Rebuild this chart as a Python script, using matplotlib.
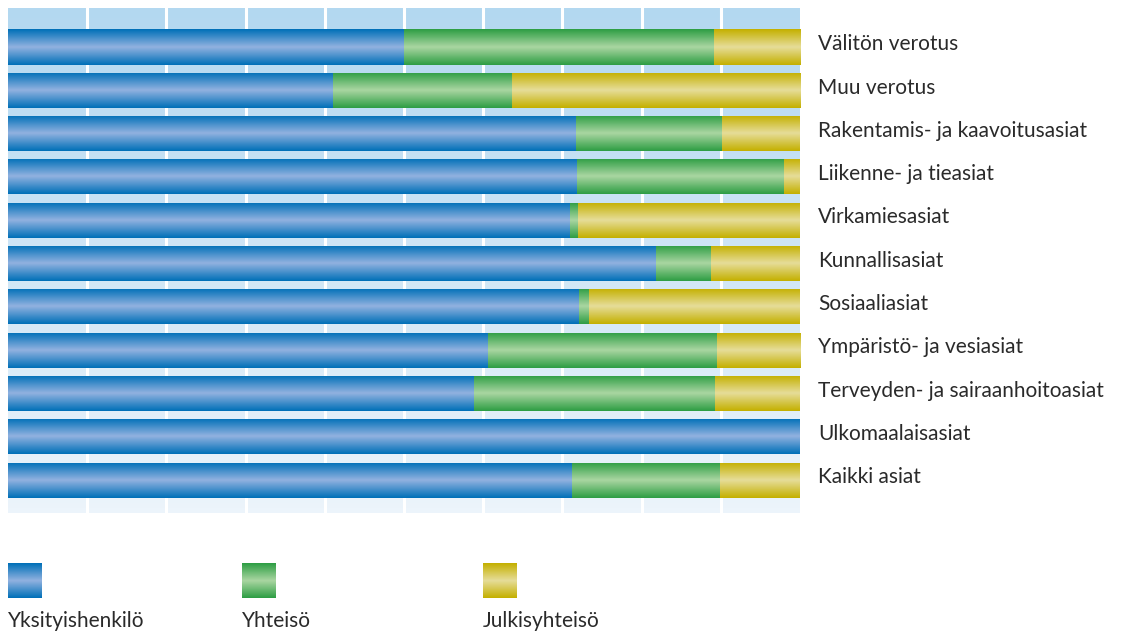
import numpy as np
import matplotlib
matplotlib.use('Agg')
import matplotlib.pyplot as plt
from matplotlib.colors import LinearSegmentedColormap

categories = ['Välitön verotus', 'Muu verotus', 'Rakentamis- ja kaavoitusasiat',
              'Liikenne- ja tieasiat', 'Virkamiesasiat', 'Kunnallisasiat',
              'Sosiaaliasiat', 'Ympäristö- ja vesiasiat',
              'Terveyden- ja sairaanhoitoasiat', 'Ulkomaalaisasiat', 'Kaikki asiat']
yksityis = [50.0, 41.0, 71.7, 71.8, 71.0, 81.8, 72.1, 60.6, 58.8, 100.0, 71.2]
yhteiso = [39.1, 22.6, 18.5, 26.2, 1.0, 7.0, 1.3, 28.9, 30.5, 0.0, 18.7]
julkis = [10.9, 36.4, 9.8, 2.0, 28.0, 11.2, 26.6, 10.5, 10.7, 0.0, 10.1]
series_names = ['Yksityishenkilö', 'Yhteisö', 'Julkisyhteisö']

# edge colour, centre colour for the shiny bar look
shades = [('#0070b8', '#92b2e0'), ('#2e9e44', '#aad6a2'), ('#c4b000', '#e6dd9a')]
cmaps = [LinearSegmentedColormap.from_list(f'c{i}', [e, c, e]) for i, (e, c) in enumerate(shades)]
grad = np.linspace(0, 1, 64).reshape(-1, 1)

plt.rcParams['font.family'] = ['Lato', 'DejaVu Sans']

fig = plt.figure(figsize=(11.23, 6.36), dpi=100)
ax = fig.add_axes([8 / 1123, 1 - 513 / 636, 792 / 1123, 505 / 636])

y = np.arange(len(categories))
ax.set_xlim(0, 100)
ax.set_ylim(10.76, -0.9)

# background gradient
bg = LinearSegmentedColormap.from_list('bg', ['#b3d8f0', '#ecf4fb'])
ax.imshow(np.linspace(0, 1, 100).reshape(-1, 1), cmap=bg, extent=(0, 100, 10.76, -0.9),
          aspect='auto', zorder=0)
for gx in range(10, 100, 10):
    ax.axvline(gx, color='white', lw=2.2, zorder=1)

left = np.zeros(len(categories))
for vals, cm in zip([yksityis, yhteiso, julkis], cmaps):
    bars = ax.barh(y, vals, left=left, height=0.81, color='none', zorder=2)
    for b in bars:
        if b.get_width() <= 0:
            continue
        x0, y0 = b.get_x(), b.get_y()
        im = ax.imshow(grad, cmap=cm, aspect='auto', zorder=3,
                       extent=(x0, x0 + b.get_width(), y0 + b.get_height(), y0))
        im.set_clip_path(b)
    left += np.array(vals)

ax.set_xlim(0, 100)
ax.set_ylim(10.76, -0.9)
ax.set_xticks([])
ax.set_yticks([])
for s in ax.spines.values():
    s.set_visible(False)

# category labels on the right
for yi, name in zip(y, categories):
    ax.annotate(name, xy=(1, yi), xycoords=('axes fraction', 'data'),
                xytext=(13, 2), textcoords='offset points', fontsize=15,
                color='#2a2a2a', va='center', ha='left')

# legend swatches
for i, (name, cm) in enumerate(zip(series_names, cmaps)):
    x_px = [8, 242, 483][i]
    lax = fig.add_axes([x_px / 1123, 1 - 598 / 636, 34 / 1123, 35 / 636])
    lax.imshow(grad, cmap=cm, aspect='auto')
    lax.axis('off')
    fig.text(x_px / 1123, 1 - 621 / 636, name, fontsize=15,
             color='#2a2a2a', va='center')

fig.savefig('out.png', dpi=100)
